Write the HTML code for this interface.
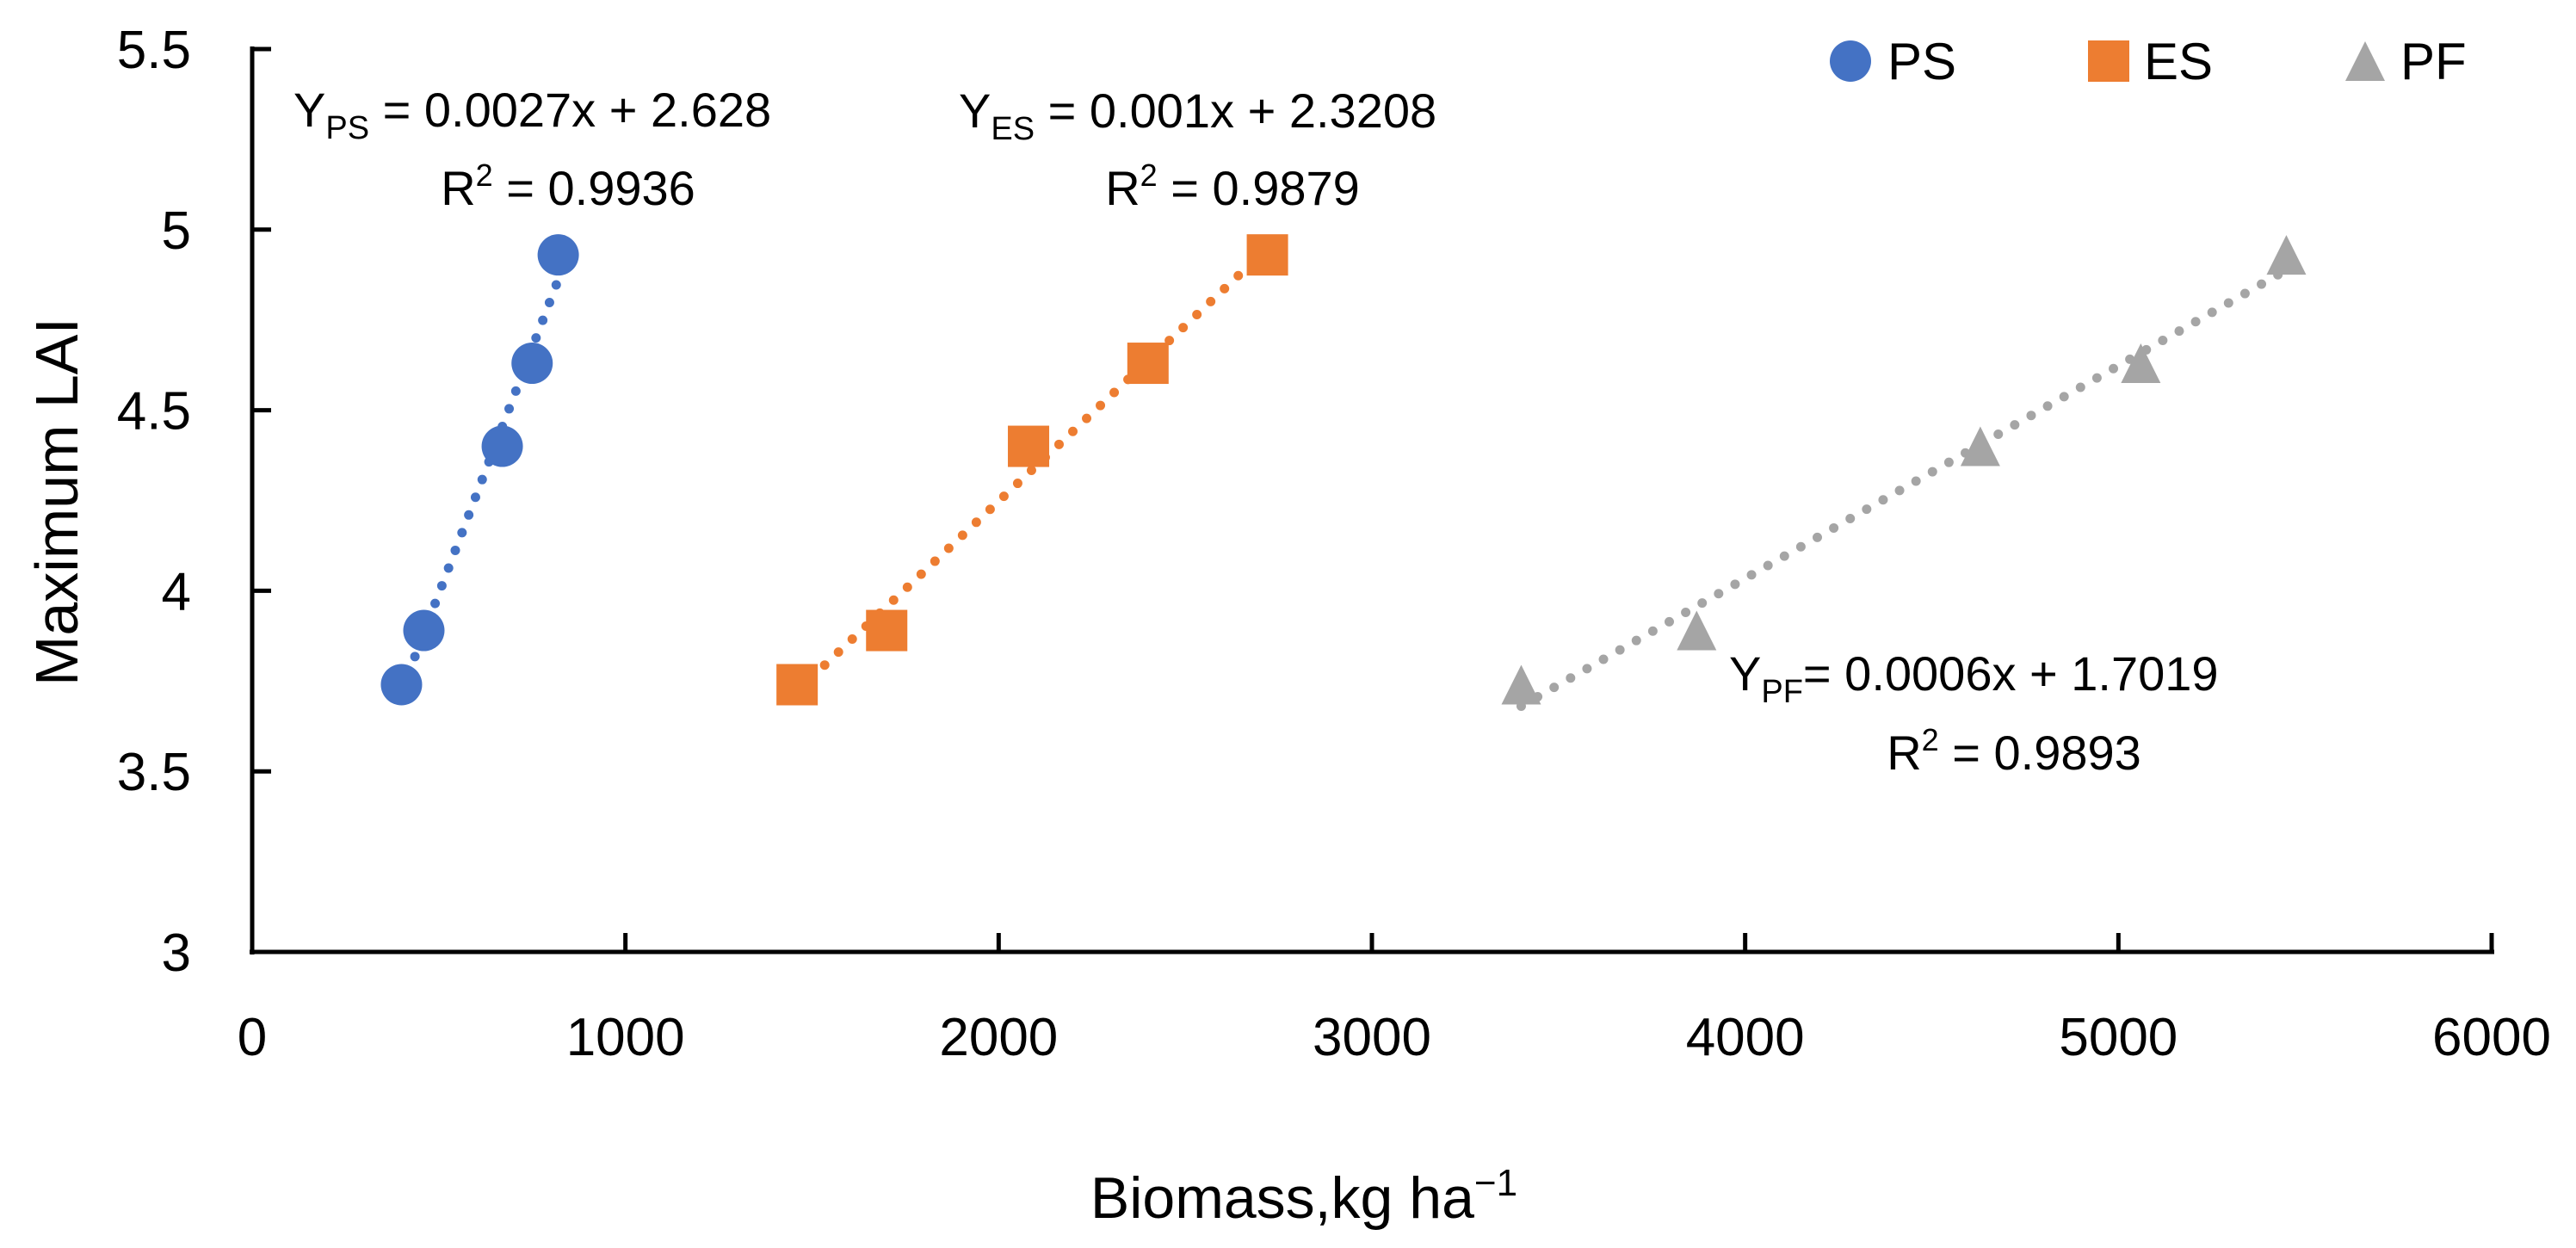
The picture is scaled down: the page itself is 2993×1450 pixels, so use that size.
<!DOCTYPE html>
<html><head><meta charset="utf-8"><style>
body{margin:0;background:#fff}
svg text{font-family:"Liberation Sans","DejaVu Sans",sans-serif;fill:#000}
</style></head><body>
<svg id="chart" width="2993" height="1445" xmlns="http://www.w3.org/2000/svg">
<g id="axes"></g>
<g id="trends"></g>
<g id="marks"></g>
<text transform="translate(90,583) rotate(-90)" text-anchor="middle" font-size="70">Maximum LAI</text>
<text x="1515" y="1415" text-anchor="middle" font-size="68">Biomass,kg ha<tspan font-size="44" dy="-26">−1</tspan></text>
<text x="341" y="147" font-size="56">Y<tspan font-size="38" dy="14">PS</tspan><tspan dy="-14"> = 0.0027x + 2.628</tspan></text>
<text x="660" y="238" text-anchor="middle" font-size="56">R<tspan font-size="36" dy="-22">2</tspan><tspan dy="22"> = 0.9936</tspan></text>
<text x="1114" y="148" font-size="56">Y<tspan font-size="38" dy="14">ES</tspan><tspan dy="-14"> = 0.001x + 2.3208</tspan></text>
<text x="1432" y="238" text-anchor="middle" font-size="56">R<tspan font-size="36" dy="-22">2</tspan><tspan dy="22"> = 0.9879</tspan></text>
<text x="2009" y="802" font-size="56">Y<tspan font-size="38" dy="14">PF</tspan><tspan dy="-14">= 0.0006x + 1.7019</tspan></text>
<text x="2340" y="894" text-anchor="middle" font-size="56">R<tspan font-size="36" dy="-22">2</tspan><tspan dy="22"> = 0.9893</tspan></text>
<g>
<ellipse cx="2150" cy="71" rx="24" ry="24" fill="#4472C4"/>
<text x="2193" y="92" font-size="60">PS</text>
<rect x="2426" y="47" width="48" height="48" fill="#ED7D31"/>
<text x="2491" y="92" font-size="60">ES</text>
<polygon points="2725,94 2771,94 2748,48" fill="#A5A5A5"/>
<text x="2789" y="92" font-size="60">PF</text>
</g>
</svg>
<script>
const xTicks=[0,1000,2000,3000,4000,5000,6000];
const yTicks=[3,3.5,4,4.5,5,5.5];
const psX=[400,460,670,750,820];
const psY=[3.74,3.89,4.40,4.63,4.93];
const esX=[1460,1700,2080,2400,2720];
const esY=[3.74,3.89,4.40,4.63,4.93];
const pfX=[3400,3870,4630,5060,5450];
const pfY=[3.74,3.89,4.40,4.63,4.93];
const NS='http://www.w3.org/2000/svg';
const X0=293,X1=2895,Y0=1106,Y1=57;
const sx=v=>X0+(v-0)/6000*(X1-X0);
const sy=v=>Y0-(v-3)/2.5*(Y0-Y1);
function mk(t,a,p){const e=document.createElementNS(NS,t);for(const k in a)e.setAttribute(k,a[k]);p.appendChild(e);return e;}
const axes=document.getElementById('axes');
let l=mk('line',{x1:X0,y1:Y1-3,x2:X0,y2:Y0+3,stroke:'#000','stroke-width':5},axes);


l=mk('line',{x1:X0-3,y1:Y0,x2:X1+3,y2:Y0,stroke:'#000','stroke-width':5},axes);


yTicks.forEach(v=>{
 const t=mk('line',{x1:X0,y1:sy(v),x2:X0+22,y2:sy(v),stroke:'#000','stroke-width':5},axes);
 
 
 const tx=mk('text',{x:222,y:sy(v)+22,'text-anchor':'end','font-size':62},axes);
 
 
 tx.textContent=String(v);
});
xTicks.forEach(v=>{
 const t=mk('line',{x1:sx(v),y1:Y0,x2:sx(v),y2:Y0-22,stroke:'#000','stroke-width':5},axes);
 
 
 const tx=mk('text',{x:sx(v),y:1226,'text-anchor':'middle','font-size':62},axes);
 
 
 tx.textContent=String(v);
});
const trends=document.getElementById('trends'),marks=document.getElementById('marks');
function fit(xs,ys){const n=xs.length;let mx=0,my=0;xs.forEach((x,i)=>{mx+=x;my+=ys[i]});mx/=n;my/=n;let a=0,b=0;xs.forEach((x,i)=>{a+=(x-mx)*(ys[i]-my);b+=(x-mx)**2});const m=a/b;return [m,my-m*mx];}
function series(xs,ys,col,name,shape){
 const [m,c]=fit(xs,ys);const xa=Math.min(...xs),xb=Math.max(...xs);
 const tl=mk('line',{x1:sx(xa),y1:sy(m*xa+c),x2:sx(xb),y2:sy(m*xb+c),stroke:col,'stroke-width':11,'stroke-linecap':'round','stroke-dasharray':'0 22'},trends);
 
 
 xs.forEach((x,i)=>{const cx=sx(x),cy=sy(ys[i]);let e;
  if(shape==='c')e=mk('circle',{cx:cx,cy:cy,r:24,fill:col},marks);
  else if(shape==='s')e=mk('rect',{x:cx-24,y:cy-24,width:48,height:48,fill:col},marks);
  else e=mk('polygon',{points:`${cx-23},${cy+23} ${cx+23},${cy+23} ${cx},${cy-23}`,fill:col},marks);
  
  
 });
}
series(psX,psY,'#4472C4','ps','c');
series(esX,esY,'#ED7D31','es','s');
series(pfX,pfY,'#A5A5A5','pf','t');
</script>
</body></html>
